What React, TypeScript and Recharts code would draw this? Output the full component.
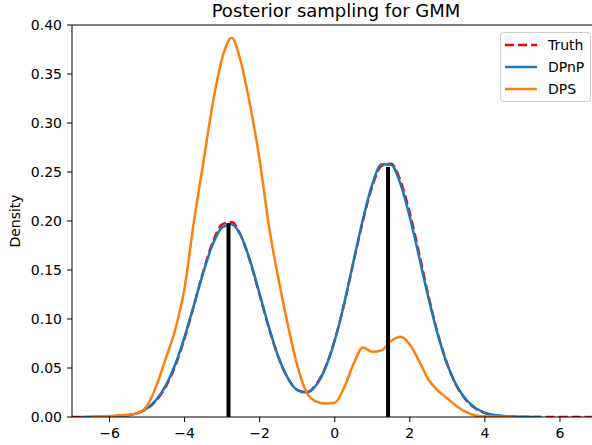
import React from 'react';
import { LineChart, Line, XAxis, YAxis, ReferenceLine } from 'recharts';

// grid of x positions the densities were read at
const xs = [
  -7, -6.75, -6.5, -6.25, -6, -5.75, -5.5, -5.25, -5, -4.75, -4.5, -4.25, -4, -3.75, -3.5, -3.25,
  -3, -2.75, -2.5, -2.25, -2, -1.75, -1.5, -1.25, -1, -0.75, -0.5, -0.25, 0,
  0.25, 0.5, 0.75, 1, 1.25, 1.5, 1.75, 2, 2.25, 2.5, 2.75, 3, 3.25, 3.5, 3.75, 4, 4.25,
  4.5, 4.75, 5, 5.25, 5.5, 5.75, 6, 6.25, 6.5, 6.75, 7,
];

const truth = [
  0, 0, 0, 0.0001, 0.0002, 0.0007, 0.0017, 0.0039, 0.0085, 0.017, 0.031, 0.052, 0.0805, 0.114, 0.149, 0.1785,
  0.1966, 0.1989, 0.185, 0.158, 0.1242, 0.0902, 0.0608, 0.0396, 0.0277, 0.0254, 0.0329, 0.0505, 0.0784,
  0.1153, 0.158, 0.2, 0.2356, 0.2564, 0.2584, 0.241, 0.208, 0.1665, 0.123, 0.0844, 0.0536, 0.0314, 0.0171, 0.0086, 0.004, 0.0017,
  0.0007, 0.0003, 0.0001, 0, 0, 0, 0, 0, 0, 0, 0,
];

const dpnp = [
  null, 0, 0.0001, 0.0002, 0.0004, 0.0009, 0.0019, 0.0042, 0.0089, 0.0178, 0.0322, 0.0535, 0.0818, 0.1145, 0.1478, 0.1762,
  0.1935, 0.1968, 0.185, 0.159, 0.1255, 0.0912, 0.0612, 0.0398, 0.0275, 0.025, 0.0322, 0.05, 0.0782,
  0.1155, 0.159, 0.2015, 0.2375, 0.2578, 0.2575, 0.238, 0.204, 0.163, 0.121, 0.0835, 0.0535, 0.0318, 0.0178, 0.0092, 0.0045, 0.0021,
  0.0009, 0.0004, 0.0002, 0.0001, 0, null, null, null, null, null, null,
];

const dps = [
  null, null, 0, 0.0004, 0.001, 0.0017, 0.0022, 0.004, 0.0115, 0.032, 0.06, 0.089, 0.132, 0.2, 0.26, 0.32,
  0.366, 0.387, 0.362, 0.317, 0.262, 0.194, 0.141, 0.094, 0.053, 0.025, 0.016, 0.0137, 0.0145,
  0.03, 0.054, 0.071, 0.0665, 0.068, 0.0775, 0.082, 0.074, 0.057, 0.038, 0.027, 0.019, 0.011, 0.005, 0.0016, 0.0008, 0.0005,
  0.0003, 0.0001, null, null, null, null, null, null, null, null, null,
];

// mixture components (black sticks)
const stickX = [-2.83, 1.42];
const stickH = [0.198, 0.255];

const xTicks = [-6, -4, -2, 0, 2, 4, 6];
const yTicks = [0, 0.05, 0.1, 0.15, 0.2, 0.25, 0.3, 0.35, 0.4];

const series = [
  { key: 'truth', name: 'Truth', color: '#ff0000', dash: '9 4' },
  { key: 'dpnp', name: 'DPnP', color: '#1f77b4', dash: undefined },
  { key: 'dps', name: 'DPS', color: '#ff7f0e', dash: undefined },
];

const data = xs.map((x, i) => ({ x, truth: truth[i], dpnp: dpnp[i], dps: dps[i] }));

const FONT = '"DejaVu Sans", sans-serif';

const fmtX = (v: number) => (v < 0 ? '\u2212' + Math.abs(v) : String(v));

const App: React.FC = () => {
  return (
    <div style={{ position: 'relative', width: 592, height: 445, overflow: 'hidden', background: '#fff', fontFamily: FONT }}>
      <style>{'body{margin:0}'}</style>
      {/* axes run a little past the right edge of the picture, as in the original */}
      <LineChart
        width={600}
        height={445}
        data={data}
        margin={{ top: 25, right: 2.5, bottom: 0, left: 0 }}
        style={{ position: 'absolute', left: 0, top: 0 }}
      >
        <XAxis
          dataKey="x"
          type="number"
          domain={[-7, 7]}
          ticks={xTicks}
          tickFormatter={fmtX}
          allowDataOverflow
          height={28}
          tickSize={5}
          tickMargin={6}
          stroke="#000"
          tick={{ fill: '#000', fontSize: 14, fontFamily: FONT }}
        />
        <YAxis
          type="number"
          domain={[0, 0.4]}
          ticks={yTicks}
          tickFormatter={(v: number) => v.toFixed(2)}
          allowDataOverflow
          width={72}
          tickSize={5}
          tickMargin={5}
          stroke="#000"
          tick={{ fill: '#000', fontSize: 14, fontFamily: FONT }}
        />
        <ReferenceLine y={0.4} stroke="#000" strokeWidth={1} />
        {series.map((s) => (
          <Line
            key={s.key}
            dataKey={s.key}
            type="monotone"
            stroke={s.color}
            strokeWidth={2.5}
            strokeDasharray={s.dash}
            dot={false}
            activeDot={false}
            isAnimationActive={false}
          />
        ))}
        {stickX.map((x, i) => (
          <ReferenceLine
            key={'stick' + i}
            segment={[{ x, y: 0 }, { x, y: stickH[i] }]}
            stroke="#000"
            strokeWidth={4}
          />
        ))}
      </LineChart>

      <div style={{ position: 'absolute', left: 0, width: 672, top: 0, textAlign: 'center', fontSize: 18, color: '#000', lineHeight: '21px' }}>
        Posterior sampling for GMM
      </div>

      <div
        style={{
          position: 'absolute',
          left: 15,
          top: 221,
          transform: 'translate(-50%, -50%) rotate(-90deg)',
          fontSize: 14,
          color: '#000',
          whiteSpace: 'nowrap',
        }}
      >
        Density
      </div>

      <div
        style={{
          position: 'absolute',
          left: 500,
          top: 32,
          width: 91,
          height: 70,
          border: '1px solid #cccccc',
          borderRadius: 4,
          background: 'rgba(255,255,255,0.8)',
          boxSizing: 'border-box',
        }}
      >
        {series.map((s, i) => (
          <div key={s.key} style={{ position: 'absolute', left: 4, top: 2 + i * 22, height: 20, display: 'flex', alignItems: 'center' }}>
            <svg width={32} height={6} style={{ display: 'block' }}>
              <line x1={0} y1={3} x2={32} y2={3} stroke={s.color} strokeWidth={2.5} strokeDasharray={s.dash} />
            </svg>
            <span style={{ marginLeft: 11, fontSize: 14, color: '#000', whiteSpace: 'nowrap' }}>{s.name}</span>
          </div>
        ))}
      </div>
    </div>
  );
};

export default App;
